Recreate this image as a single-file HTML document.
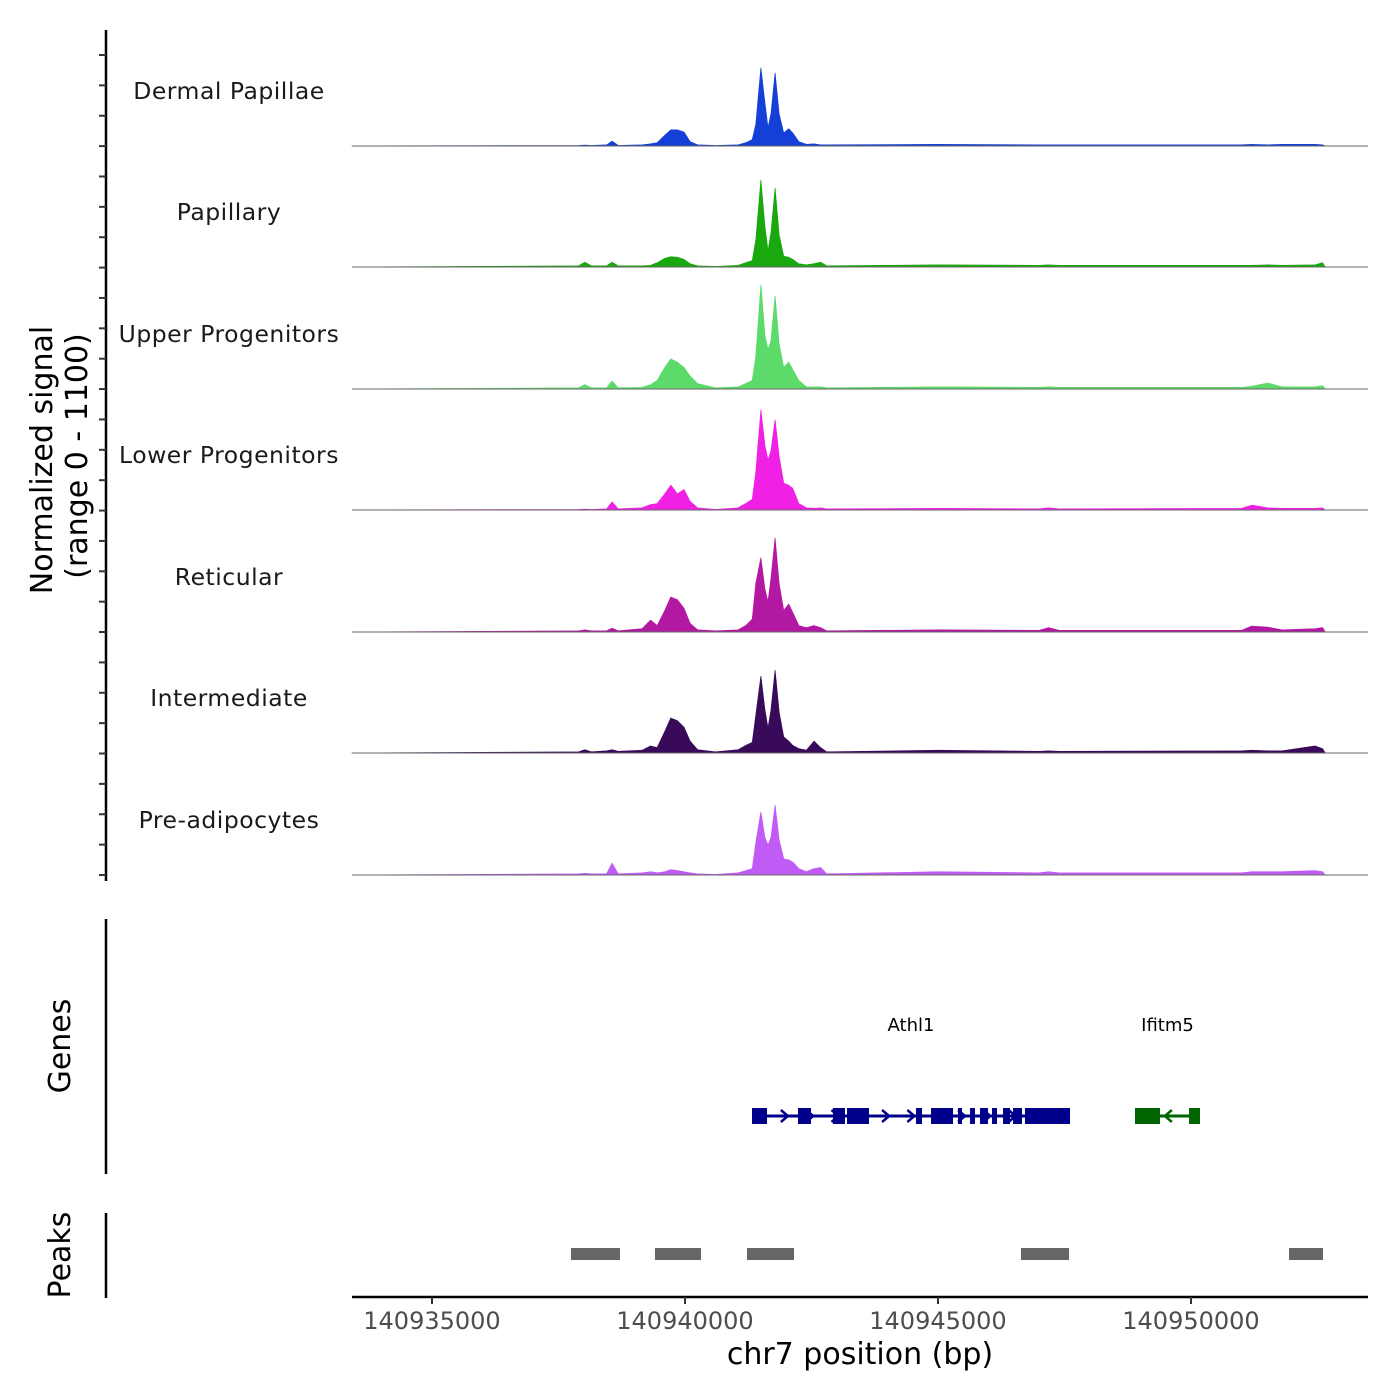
<!DOCTYPE html>
<html><head><meta charset="utf-8"><style>
body{margin:0;background:#fff}
svg{display:block;font-family:"DejaVu Sans","Liberation Sans",sans-serif}
</style></head><body>
<svg id="c" width="1400" height="1400" viewBox="0 0 1400 1400"></svg>
<script>
const trackNames=["Dermal Papillae","Papillary","Upper Progenitors","Lower Progenitors","Reticular","Intermediate","Pre-adipocytes"];
const trackColors=["#1540d8","#1aa80f","#5ddb6a","#f020e4","#b318a3","#3a0a5a","#c05cf5"];
const positions=[140933419,140937900,140938020,140938150,140938450,140938560,140938680,140939150,140939320,140939450,140939600,140939720,140939850,140939980,140940100,140940250,140940600,140941050,140941200,140941330,140941400,140941500,140941580,140941640,140941700,140941780,140941860,140941950,140942050,140942130,140942250,140942400,140942550,140942680,140942800,140945000,140947000,140947180,140947400,140951000,140951200,140951520,140951800,140952450,140952600,140952650];
const sigDermal=[0,5,8,5,10,45,5,10,20,30,100,150,150,130,40,10,5,10,30,60,200,727,400,170,300,680,300,120,160,120,40,15,20,10,10,15,10,10,10,10,15,10,15,15,10,0];
const sigPapillary=[0,10,45,10,10,45,10,10,15,40,80,95,90,70,30,10,5,15,40,60,250,810,380,150,320,735,300,100,90,70,30,20,30,45,10,20,15,20,15,15,15,20,15,20,40,0];
const sigUpper=[0,10,40,10,10,75,10,15,40,80,200,280,250,200,120,50,10,20,50,80,300,970,500,370,450,865,420,200,250,180,80,20,20,20,10,20,15,20,15,15,25,55,20,20,30,0];
const sigLower=[0,5,8,5,10,75,10,20,50,60,150,230,150,190,80,20,5,20,60,100,350,930,600,465,550,840,500,250,230,200,60,20,15,20,10,15,10,20,10,15,45,20,15,15,20,0];
const sigReticular=[0,10,20,10,10,35,10,30,110,60,200,325,300,220,80,20,10,20,60,120,450,690,400,280,500,875,450,200,260,180,60,40,60,40,10,20,15,40,15,15,55,45,20,30,40,0];
const sigIntermediate=[0,10,30,10,20,30,15,25,65,50,200,325,300,240,110,30,10,30,70,100,350,715,400,230,400,770,380,150,110,70,40,25,110,50,10,25,15,20,15,20,25,20,20,65,40,0];
const sigPreadip=[0,10,15,10,10,110,10,20,30,20,30,50,40,30,20,10,5,20,40,60,300,585,350,280,350,650,330,150,140,120,60,30,60,70,10,30,20,30,20,20,30,30,30,40,30,0];
const signals=[sigDermal,sigPapillary,sigUpper,sigLower,sigReticular,sigIntermediate,sigPreadip];
const xTicks=[140935000,140940000,140945000,140950000];
const athl1Exons=[[140941324,140941621],[140942233,140942490],[140942925,140943162],[140943202,140943636],[140944565,140944684],[140944862,140945297],[140945395,140945474],[140945633,140945731],[140945830,140945988],[140946067,140946166],[140946285,140946423],[140946482,140946660],[140946719,140947609]];
const athl1Span=[140941324,140947609];
const ifitm5Exons=[[140948893,140949387],[140949961,140950178]];
const ifitm5Span=[140948893,140950178];
const peakRegions=[[140937747,140938715],[140939407,140940316],[140941225,140942154],[140946640,140947589],[140951937,140952609]];

const svg=document.getElementById('c');
const NS='http://www.w3.org/2000/svg';
const X0=352,X1=1368,BP0=140933419,PXPB=0.0506;
const xs=bp=>X0+(bp-BP0)*PXPB;
const baselines=[146,267,389,510,632,753,875];
const ys=(v,b)=>b-v*118/1100;
function mk(t,a,txt){const e=document.createElementNS(NS,t);for(const k in a)e.setAttribute(k,a[k]);if(txt!=null)e.textContent=txt;svg.appendChild(e);return e;}

let e=mk('line',{x1:106,y1:30,x2:106,y2:881,stroke:'#000','stroke-width':2.5});


for(let y=55;y<=880;y+=30.37){
 e=mk('line',{x1:99,y1:y,x2:106,y2:y,stroke:'#333','stroke-width':2});
 
 
}
e=mk('text',{x:0,y:0,transform:'translate(52,460) rotate(-90)','text-anchor':'middle','font-size':30,fill:'#000'},'Normalized signal');


e=mk('text',{x:0,y:0,transform:'translate(87,456) rotate(-90)','text-anchor':'middle','font-size':30,fill:'#000'},'(range 0 - 1100)');



signals.forEach((s,i)=>{
 const b=baselines[i];
 let d='M'+xs(positions[0])+','+b;
 positions.forEach((p,j)=>{d+=' L'+xs(p).toFixed(1)+','+ys(s[j],b).toFixed(1);});
 d+=' L'+xs(positions[positions.length-1])+','+b+' Z';
 e=mk('path',{d:d,fill:trackColors[i],stroke:trackColors[i],'stroke-width':0.8,'stroke-linejoin':'round'});
 
 
 e=mk('line',{x1:X0,y1:b,x2:X1,y2:b,stroke:'#666','stroke-width':1});
 
 
 e=mk('text',{x:229,y:b-47,'text-anchor':'middle','font-size':23.5,fill:'#1a1a1a','letter-spacing':0.5},trackNames[i]);
 
 
});

e=mk('line',{x1:106,y1:919,x2:106,y2:1174,stroke:'#000','stroke-width':2.5});


e=mk('text',{x:0,y:0,transform:'translate(70,1046) rotate(-90)','text-anchor':'middle','font-size':30,fill:'#000'},'Genes');


function gene(name,span,exons,col,dir,labelName){
 const gy=1116;
 let g=mk('line',{x1:xs(span[0]),y1:gy,x2:xs(span[1]),y2:gy,stroke:col,'stroke-width':3});
 
 
 for(let p=span[0]+150;p<span[1];p+=500){
  const x=xs(p);
  const pts=dir>0?`${x-4},${gy-6} ${x+3},${gy} ${x-4},${gy+6}`:`${x+4},${gy-6} ${x-3},${gy} ${x+4},${gy+6}`;
  g=mk('polyline',{points:pts,fill:'none',stroke:col,'stroke-width':2.5});
  
  
 }
 exons.forEach(ex=>{
  g=mk('rect',{x:xs(ex[0]),y:gy-8,width:Math.max(3,xs(ex[1])-xs(ex[0])),height:16,fill:col});
  
  
 });
 g=mk('text',{x:(xs(span[0])+xs(span[1]))/2,y:1031,'text-anchor':'middle','font-size':18,fill:'#000'},name);
 
 
}
gene('Athl1',athl1Span,athl1Exons,'#00008b',1,'athl1');
gene('Ifitm5',ifitm5Span,ifitm5Exons,'#006400',-1,'ifitm5');

e=mk('line',{x1:106,y1:1213,x2:106,y2:1298,stroke:'#000','stroke-width':2.5});


e=mk('text',{x:0,y:0,transform:'translate(70,1255) rotate(-90)','text-anchor':'middle','font-size':30,fill:'#000'},'Peaks');


peakRegions.forEach(p=>{
 e=mk('rect',{x:xs(p[0]),y:1248,width:xs(p[1])-xs(p[0]),height:12,fill:'#666'});
 
 
});

e=mk('line',{x1:X0,y1:1297,x2:X1,y2:1297,stroke:'#000','stroke-width':2.5});


xTicks.forEach(t=>{
 const x=xs(t);
 e=mk('line',{x1:x,y1:1297,x2:x,y2:1304,stroke:'#333','stroke-width':2});
 
 
 e=mk('text',{x:x,y:1329,'text-anchor':'middle','font-size':24,fill:'#4d4d4d'},String(t));
 
 
});
e=mk('text',{x:860,y:1364,'text-anchor':'middle','font-size':30,fill:'#000'},'chr7 position (bp)');


</script>
</body></html>
